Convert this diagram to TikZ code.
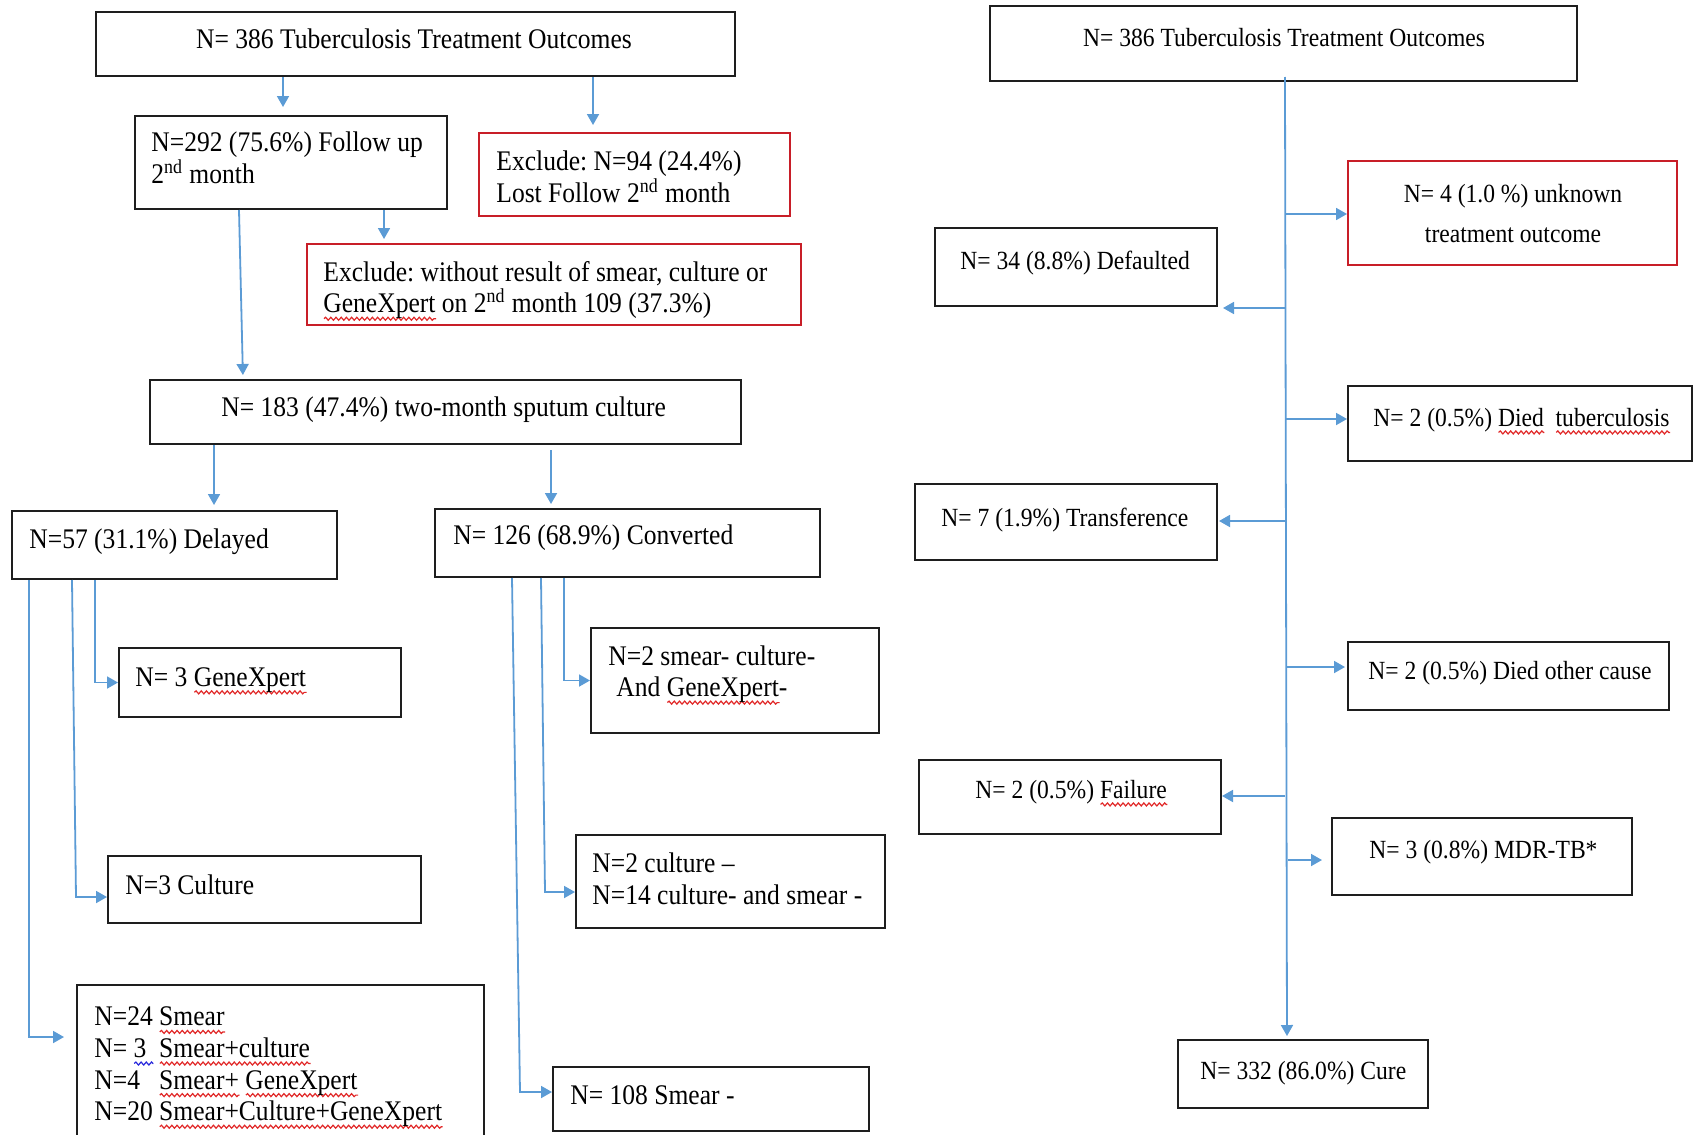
\documentclass[tikz,border=0pt]{standalone}
\usepackage{fontspec}
\setmainfont{Liberation Serif}[FakeStretch=0.9]
\usetikzlibrary{arrows.meta,fit,decorations.pathmorphing}
\definecolor{arrowblue}{RGB}{91,155,213}
\definecolor{boxred}{RGB}{200,30,40}
\definecolor{boxline}{RGB}{30,30,30}
\definecolor{wavered}{RGB}{225,40,40}
\definecolor{waveblue}{RGB}{40,40,220}
\frenchspacing
\newlength\wvlen
\newcommand\wavyline[2]{\settowidth\wvlen{#2}\rlap{\tikz[baseline=0pt]\draw[#1,line width=0.6pt,decorate,decoration={snake,amplitude=0.75pt,segment length=2.6pt}] (0pt,-3pt) -- (\wvlen,-3pt);}#2}
\newcommand\rw[1]{\wavyline{wavered}{#1}}
\newcommand\bw[1]{\wavyline{waveblue}{#1}}
\begin{document}
\begin{tikzpicture}[x=0.5pt,y=-0.5pt,
  box/.style={draw=boxline,line width=1pt,inner sep=0pt},
  redbox/.style={draw=boxred,line width=1pt,inner sep=0pt},
  lt/.style={font=\fontsize{14.2}{15.8}\selectfont,inner sep=0pt,align=left,anchor=west,yshift=-1pt},
  rt/.style={font=\fontsize{13.1}{20}\selectfont,inner sep=0pt,align=center,yshift=-1.2pt},
  arr/.style={draw=arrowblue,line width=0.9pt,-{Triangle[length=5.5pt,width=6pt]}},
  ln/.style={draw=arrowblue,line width=0.9pt}]
\fill[white] (0,0) rectangle (1694,1135);
\clip (0,0) rectangle (1694,1135);

% ---------- left diagram: boxes ----------
\node[box,fit={(96,12) (735,76)}] (top1) {};
\node[box,fit={(135,116) (447,209)}] (fu) {};
\node[redbox,fit={(479,133) (790,216)}] (ex94) {};
\node[redbox,fit={(307,244) (801,325)}] (exs) {};
\node[box,fit={(150,380) (741,444)}] (n183) {};
\node[box,fit={(12,511) (337,579)}] (del) {};
\node[box,fit={(435,509) (820,577)}] (conv) {};
\node[box,fit={(119,648) (401,717)}] (gx) {};
\node[box,fit={(108,856) (421,923)}] (cul) {};
\node[box,fit={(77,985) (484,1180)}] (sm) {};
\node[box,fit={(591,628) (879,733)}] (sc) {};
\node[box,fit={(576,835) (885,928)}] (cu2) {};
\node[box,fit={(553,1067) (869,1131)}] (s108) {};

% ---------- left diagram: texts ----------
\node[lt,anchor=center] (ttop1) at (414,37) {N= 386 Tuberculosis Treatment Outcomes};
\node[lt] (tfu) at (151,156) {N=292 (75.6\%) Follow up\\2\textsuperscript{nd} month};
\node[lt] (tex94) at (496,175) {Exclude: N=94 (24.4\%)\\Lost Follow 2\textsuperscript{nd} month};
\node[lt] (texs) at (323,289) {Exclude: without result of smear, culture or\\\rw{GeneXpert} on 2\textsuperscript{nd} month 109 (37.3\%)};
\node[lt] (t183) at (221,408) {N= 183 (47.4\%) two-month sputum culture};
\node[lt] (tdel) at (29,540) {N=57 (31.1\%) Delayed};
\node[lt] (tconv) at (453,536) {N= 126 (68.9\%) Converted};
\node[lt] (tgx) at (135,679) {N= 3 \rw{GeneXpert}};
\node[lt] (tcul) at (125,883) {N=3 Culture};
\node[lt] (tsm) at (94,1065) {\begin{tabular}{@{}l@{ }l@{}}
N=24 & \rw{Smear}\\
N=\ \bw{3\ } & \rw{Smear+culture}\\
N=4 & \rw{Smear+} \rw{GeneXpert}\\
N=20 & \rw{Smear+Culture+GeneXpert}
\end{tabular}};
\node[lt] (tsc) at (608,673) {N=2 smear- culture-\\\hspace*{4pt}And \rw{GeneXpert}-};
\node[lt] (tcu2) at (592,877) {N=2 culture --\\N=14 culture- and smear -};
\node[lt] (t108) at (570,1093) {N= 108 Smear -};

% ---------- left diagram: connectors ----------
\draw[arr,shorten >=4pt] (top1.south -| 283,0) -- (fu.north -| 283,0);
\draw[arr,shorten >=3.5pt] (top1.south -| 593,0) -- (ex94.north -| 593,0);
\draw[arr,shorten >=2pt] (fu.south -| 384,0) -- (exs.north -| 384,0);
\draw[arr,shorten >=2pt] (fu.south -| 239,0) -- (n183.north -| 243,0);
\draw[arr,shorten >=2.5pt] (n183.south -| 214,0) -- (del.north -| 214,0);
\draw[arr,shorten <=2.5pt,shorten >=2pt] (n183.south -| 551,0) -- (conv.north -| 551,0);
\draw[arr] (del.south -| 95,0) |- (gx.west);
\draw[arr] (del.south -| 72,0) -- (76,897) -- (cul.west |- 0,897);
\draw[arr,shorten >=6pt] (del.south -| 29,0) -- (29,1037) -- (sm.west |- 0,1037);
\draw[arr] (conv.south -| 564,0) |- (sc.west);
\draw[arr] (conv.south -| 541,0) -- (545,892) -- (cu2.west |- 0,892);
\draw[arr] (conv.south -| 512,0) -- (520,1092) -- (s108.west |- 0,1092);

% ---------- right diagram: boxes ----------
\node[box,fit={(990,6) (1577,81)}] (top2) {};
\node[redbox,fit={(1348,161) (1677,265)}] (unk) {};
\node[box,fit={(935,228) (1217,306)}] (dft) {};
\node[box,fit={(1348,386) (1692,461)}] (dtb) {};
\node[box,fit={(915,484) (1217,560)}] (trf) {};
\node[box,fit={(1348,642) (1669,710)}] (dot) {};
\node[box,fit={(919,760) (1221,834)}] (fail) {};
\node[box,fit={(1332,818) (1632,895)}] (mdr) {};
\node[box,fit={(1178,1040) (1428,1108)}] (cure) {};

% ---------- right diagram: texts ----------
\node[rt] (ttop2) at (1284,35) {N= 386 Tuberculosis Treatment Outcomes};
\node[rt] (tunk) at (1513,211) {N= 4 (1.0 \%) unknown\\treatment outcome};
\node[rt,anchor=west] (tdft) at (960,261) {N= 34 (8.8\%) Defaulted};
\node[rt,anchor=west] (tdtb) at (1373,419) {N= 2 (0.5\%) \rw{Died}\ \ \rw{tuberculosis}};
\node[rt,anchor=west] (ttrf) at (941,518) {N= 7 (1.9\%) Transference};
\node[rt,anchor=west] (tdot) at (1368,671) {N= 2 (0.5\%) Died other cause};
\node[rt,anchor=west] (tfail) at (975,791) {N= 2 (0.5\%) \rw{Failure}};
\node[rt,anchor=west] (tmdr) at (1369,850) {N= 3 (0.8\%) MDR-TB*};
\node[rt,anchor=west] (tcure) at (1200,1071) {N= 332 (86.0\%) Cure};

% ---------- right diagram: connectors ----------
\coordinate (j1) at (1285,214);
\coordinate (j2) at (1285,308);
\coordinate (j3) at (1285,419);
\coordinate (j4) at (1285,521);
\coordinate (j5) at (1286,667);
\coordinate (j6) at (1285,796);
\coordinate (j7) at (1288,860);
\draw[arr,shorten <=-2.5pt,shorten >=1.5pt] (top2.south -| 1285,0) -- (cure.north -| 1287,0);
\draw[arr] (j1) -- (unk.west |- j1);
\draw[arr,shorten >=2.5pt] (j2) -- (dft.east |- j2);
\draw[arr] (j3) -- (dtb.west |- j3);
\draw[arr,shorten >=0.5pt] (j4) -- (trf.east |- j4);
\draw[arr,shorten >=1pt] (j5) -- (dot.west |- j5);
\draw[arr] (j6) -- (fail.east |- j6);
\draw[arr,shorten >=4.5pt] (j7) -- (mdr.west |- j7);
\end{tikzpicture}
\end{document}
